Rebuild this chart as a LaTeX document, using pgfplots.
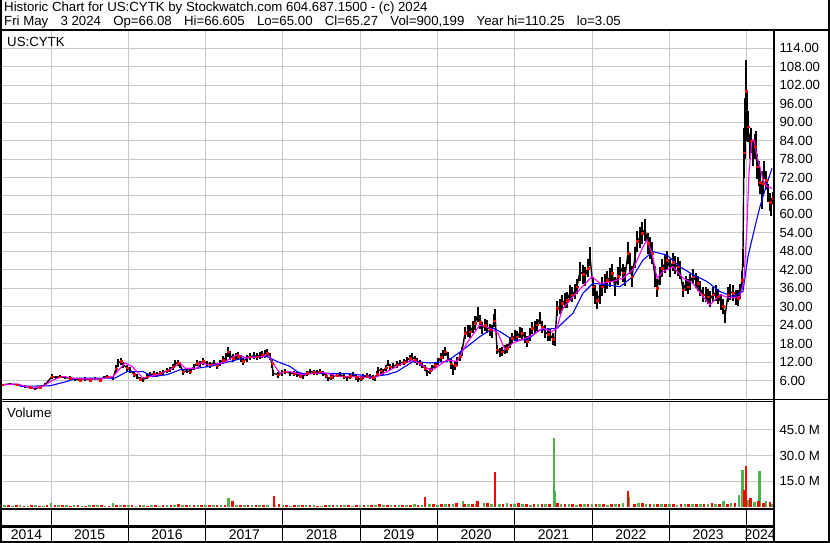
\documentclass[border=0pt]{standalone}
\usepackage{pgfplots}
\pgfplotsset{compat=1.18}
\usepackage{pgfplotstable}
\usepackage{fontspec}
\setmainfont{Liberation Sans}
\definecolor{gridc}{RGB}{200,200,200}
\definecolor{volg}{RGB}{76,178,76}
\definecolor{volr}{RGB}{255,0,0}
\definecolor{maM}{RGB}{255,0,255}
\definecolor{maB}{RGB}{0,0,255}

\pgfplotstableread{
t c e
2014.366 4.6 0.4
2014.470 4.9 0.4
2014.560 4.6 0.4
2014.664 4.1 0.4
2014.728 3.8 0.4
2014.793 3.3 0.4
2014.858 3.9 0.4
2014.922 4.6 0.5
2015.013 7.3 0.8
2015.065 7.0 0.6
2015.116 7.3 0.6
2015.181 7.0 0.6
2015.246 6.8 0.6
2015.311 6.4 0.5
2015.375 6.2 0.5
2015.440 6.5 0.5
2015.505 6.2 0.5
2015.569 6.8 0.5
2015.634 6.2 0.5
2015.686 7.0 0.6
2015.724 7.3 0.6
2015.802 6.8 0.6
2015.841 9.8 1.2
2015.867 11.7 1.2
2015.906 12.2 1.2
2015.931 11.1 1.0
2015.983 10.2 1.0
2016.022 9.5 1.0
2016.074 8.0 0.8
2016.113 7.3 0.8
2016.151 6.5 0.8
2016.190 6.2 0.8
2016.242 7.2 0.8
2016.281 7.9 0.8
2016.333 8.2 0.8
2016.371 7.9 0.8
2016.410 8.3 0.8
2016.449 8.6 0.8
2016.501 9.2 0.8
2016.539 9.5 0.8
2016.578 10.5 1.0
2016.604 11.7 1.0
2016.643 11.6 1.0
2016.669 11.1 1.0
2016.708 8.9 1.0
2016.759 9.2 0.9
2016.798 8.9 0.9
2016.850 10.5 1.0
2016.889 11.7 1.0
2016.928 11.5 1.0
2016.966 12.2 1.0
2017.018 11.5 1.0
2017.057 11.1 1.0
2017.109 11.8 1.0
2017.148 10.8 1.0
2017.186 11.8 1.0
2017.225 12.7 1.2
2017.264 13.5 1.5
2017.290 15.4 1.6
2017.316 14.2 1.4
2017.355 13.3 1.2
2017.393 13.8 1.2
2017.419 14.0 1.2
2017.458 13.2 1.2
2017.484 12.2 1.2
2017.536 13.2 1.2
2017.574 13.8 1.2
2017.626 14.1 1.2
2017.665 13.8 1.2
2017.704 14.2 1.2
2017.730 14.4 1.2
2017.769 14.6 1.2
2017.794 14.9 1.2
2017.833 13.8 1.2
2017.859 11.5 1.5
2017.872 8.4 1.0
2017.937 7.9 1.0
2017.988 8.5 0.9
2018.027 8.9 0.9
2018.092 8.4 0.8
2018.144 8.2 0.8
2018.183 7.9 0.8
2018.221 7.5 0.8
2018.260 7.3 0.8
2018.312 8.4 0.8
2018.351 8.9 0.8
2018.402 8.7 0.8
2018.441 8.6 0.8
2018.480 8.9 0.8
2018.519 8.4 0.8
2018.558 7.6 0.8
2018.584 6.5 0.8
2018.622 7.0 0.8
2018.648 7.3 0.8
2018.700 7.8 0.8
2018.739 7.9 0.8
2018.791 7.3 0.8
2018.829 6.8 0.8
2018.868 7.4 0.8
2018.907 7.9 0.8
2018.946 7.0 0.8
2018.972 6.2 0.8
2019.010 6.8 0.8
2019.036 7.3 0.8
2019.088 7.5 0.8
2019.127 7.3 0.8
2019.166 7.0 0.8
2019.192 6.8 0.8
2019.217 8.0 1.0
2019.230 9.5 1.0
2019.269 9.2 1.0
2019.295 8.9 1.0
2019.334 10.2 1.0
2019.360 11.7 1.0
2019.386 10.5 1.0
2019.424 10.6 1.0
2019.476 11.2 1.0
2019.515 11.7 1.0
2019.567 12.0 1.0
2019.606 12.7 1.0
2019.644 13.2 1.2
2019.670 13.8 1.2
2019.709 12.8 1.2
2019.735 12.2 1.2
2019.774 11.8 1.0
2019.800 11.1 1.0
2019.838 10.0 1.0
2019.864 8.4 1.0
2019.903 9.2 1.0
2019.929 10.0 1.0
2019.968 11.0 1.0
2020.007 12.2 1.2
2020.045 13.5 1.4
2020.071 14.5 1.4
2020.097 15.4 1.5
2020.136 13.8 1.5
2020.175 11.5 1.6
2020.201 9.5 1.6
2020.227 11.0 1.5
2020.252 12.2 1.5
2020.291 13.8 1.5
2020.317 15.4 1.5
2020.356 21.4 2.0
2020.395 22.0 2.0
2020.421 21.9 2.0
2020.459 23.5 2.0
2020.485 24.7 2.2
2020.524 27.5 2.4
2020.550 25.0 2.2
2020.576 23.0 2.0
2020.615 24.0 2.0
2020.641 23.6 2.0
2020.679 22.5 2.0
2020.705 21.9 2.0
2020.731 25.5 2.0
2020.744 27.9 1.5
2020.770 16.0 1.5
2020.809 15.0 1.5
2020.835 15.4 1.5
2020.873 16.0 1.5
2020.899 16.5 1.5
2020.938 18.5 1.8
2020.964 19.8 1.8
2021.003 20.5 1.8
2021.029 20.3 1.8
2021.067 21.5 1.8
2021.093 21.4 1.8
2021.132 20.0 1.8
2021.158 18.7 1.8
2021.197 21.0 2.0
2021.223 23.0 2.0
2021.262 23.5 2.0
2021.287 24.1 2.0
2021.326 26.3 2.0
2021.352 23.5 2.0
2021.391 21.9 2.0
2021.430 21.0 2.0
2021.456 20.9 2.0
2021.494 19.5 2.0
2021.520 18.7 1.5
2021.546 29.5 2.5
2021.585 30.0 2.5
2021.611 31.2 2.5
2021.650 32.0 2.5
2021.676 32.2 2.5
2021.714 34.4 2.5
2021.740 33.9 2.5
2021.779 35.0 2.5
2021.805 36.5 2.5
2021.844 41.4 3.0
2021.883 40.5 3.0
2021.908 39.8 3.0
2021.947 42.5 3.0
2021.973 46.3 3.0
2022.012 36.5 3.0
2022.038 34.0 3.0
2022.064 32.2 3.0
2022.102 34.0 3.0
2022.128 36.5 3.0
2022.167 37.5 3.0
2022.193 38.7 3.0
2022.232 39.5 3.0
2022.258 40.9 3.0
2022.296 36.5 3.0
2022.335 40.0 3.0
2022.361 43.0 3.0
2022.400 41.0 3.0
2022.426 39.8 3.0
2022.465 47.4 3.5
2022.491 44.0 3.5
2022.516 39.8 3.5
2022.555 46.0 3.5
2022.581 51.2 3.5
2022.620 52.5 3.5
2022.646 53.9 3.5
2022.685 55.0 3.5
2022.723 50.6 3.5
2022.749 49.0 3.5
2022.775 47.4 3.5
2022.814 39.8 3.5
2022.840 36.0 3.0
2022.879 40.0 3.0
2022.905 42.5 3.0
2022.943 44.0 3.0
2022.969 45.2 3.0
2023.008 42.5 3.0
2023.047 44.5 3.0
2023.073 43.6 3.0
2023.112 43.0 3.0
2023.137 42.0 3.0
2023.176 35.5 2.5
2023.215 37.5 2.5
2023.241 36.5 2.5
2023.267 38.0 2.5
2023.306 39.8 2.5
2023.344 38.5 2.5
2023.370 37.6 2.5
2023.396 36.0 2.5
2023.435 33.9 2.5
2023.474 34.0 2.5
2023.500 33.3 2.5
2023.526 32.5 2.5
2023.564 33.9 2.5
2023.603 34.5 2.5
2023.629 33.3 2.5
2023.668 31.5 2.5
2023.694 30.1 2.5
2023.720 26.8 2.0
2023.758 33.9 2.5
2023.784 34.8 2.5
2023.823 34.4 2.5
2023.862 33.0 2.5
2023.888 32.8 2.5
2023.914 35.0 2.5
2023.940 38.7 3.0
2023.952 45.8 3.0
2023.965 80.0 8.0
2023.978 88.0 10.0
2023.991 100.0 10.3
2024.004 92.0 8.0
2024.017 88.5 5.0
2024.043 82.0 4.0
2024.056 84.0 4.0
2024.082 79.9 4.0
2024.108 82.0 4.0
2024.121 83.1 4.0
2024.134 75.5 4.0
2024.159 73.4 4.0
2024.172 70.5 4.0
2024.198 65.8 4.0
2024.211 70.0 4.0
2024.224 74.5 3.0
2024.250 71.2 3.0
2024.276 66.9 3.0
2024.302 64.0 3.0
2024.315 62.5 3.0
2024.341 65.3 2.0
}\price

\pgfplotstableread{
t v
2014.366 4.6
2014.560 4.9
2014.767 3.5
2014.897 4.1
2015.026 6.2
2015.155 7.3
2015.375 6.5
2015.634 6.5
2015.802 7.3
2015.957 11.7
2016.048 10.6
2016.190 6.8
2016.371 7.9
2016.539 9.5
2016.669 11.7
2016.734 10.0
2016.889 10.0
2016.928 11.7
2017.057 11.1
2017.225 11.7
2017.406 14.4
2017.536 13.3
2017.743 13.8
2017.807 14.7
2017.898 10.6
2017.963 8.4
2018.092 8.9
2018.260 7.9
2018.519 8.6
2018.739 7.3
2018.959 7.3
2019.166 6.8
2019.347 8.9
2019.515 11.1
2019.683 12.7
2019.864 10.0
2019.942 9.5
2020.123 12.7
2020.252 12.2
2020.382 18.2
2020.550 24.1
2020.679 23.0
2020.783 21.4
2020.873 16.0
2020.977 18.2
2021.197 20.3
2021.365 23.0
2021.482 21.9
2021.546 23.0
2021.611 29.0
2021.753 33.3
2021.999 39.8
2022.102 37.6
2022.271 38.2
2022.400 39.3
2022.529 42.0
2022.659 49.5
2022.711 51.7
2022.775 47.4
2022.840 39.3
2022.917 41.4
2023.047 43.0
2023.176 39.3
2023.306 37.5
2023.435 33.3
2023.526 30.6
2023.655 33.9
2023.784 32.8
2023.914 33.3
2023.965 38.7
2024.004 56.0
2024.030 73.4
2024.069 84.2
2024.095 84.2
2024.134 78.8
2024.172 75.5
2024.211 71.2
2024.263 69.0
2024.328 68.5
}\maShort

\pgfplotstableread{
t v
2014.599 4.1
2014.987 4.3
2015.207 5.7
2015.336 6.8
2015.634 6.8
2015.828 6.8
2015.983 8.9
2016.190 8.9
2016.320 7.3
2016.501 7.9
2016.669 9.5
2016.889 10.0
2017.057 10.6
2017.316 12.2
2017.536 13.6
2017.794 13.8
2017.924 12.2
2018.092 10.6
2018.183 8.9
2018.260 8.2
2018.519 8.4
2018.868 8.2
2019.166 7.3
2019.347 7.9
2019.476 8.9
2019.683 12.2
2019.903 11.7
2020.123 12.2
2020.330 16.0
2020.550 20.3
2020.718 23.0
2020.809 21.9
2020.977 19.2
2021.158 19.2
2021.326 22.5
2021.546 23.0
2021.753 27.9
2021.883 34.4
2022.012 37.6
2022.193 37.1
2022.361 36.5
2022.529 39.8
2022.659 45.2
2022.788 47.9
2022.969 46.8
2023.137 43.0
2023.306 40.4
2023.487 38.2
2023.655 34.9
2023.823 33.3
2023.952 34.9
2024.017 46.3
2024.108 56.0
2024.172 62.5
2024.263 70.1
2024.328 75.0
}\maLong

\pgfplotstableread{
t v
2014.40 1.0
2014.50 0.8
2014.60 1.1
2014.70 0.7
2014.80 0.9
2014.90 0.8
2015.00 2.2
2015.10 1.2
2015.20 0.9
2015.30 1.0
2015.40 0.8
2015.50 0.9
2015.60 1.1
2015.70 0.8
2015.80 2.6
2015.90 1.3
2016.00 1.0
2016.10 0.8
2016.20 1.1
2016.30 0.9
2016.40 0.8
2016.50 1.0
2016.60 1.2
2016.70 0.9
2016.80 1.0
2016.90 1.3
2017.00 1.1
2017.10 0.9
2017.20 1.2
2017.30 5.4
2017.40 1.3
2017.50 1.0
2017.60 1.2
2017.70 1.1
2017.80 1.3
2017.90 1.4
2018.00 1.0
2018.10 0.8
2018.20 1.2
2018.30 0.9
2018.40 1.1
2018.50 0.8
2018.60 1.0
2018.70 0.9
2018.80 1.2
2018.90 0.8
2019.00 1.0
2019.10 1.1
2019.20 1.4
2019.30 0.9
2019.40 1.2
2019.50 1.0
2019.60 1.3
2019.70 1.5
2019.80 1.2
2019.90 1.6
2020.00 1.4
2020.10 1.8
2020.20 1.5
2020.33 3.5
2020.40 1.7
2020.50 2.0
2020.60 2.4
2020.70 1.8
2020.80 1.6
2020.90 2.2
2021.00 1.5
2021.10 1.8
2021.20 1.4
2021.30 1.7
2021.40 2.0
2021.507 40.6
2021.52 9.4
2021.60 1.9
2021.70 1.6
2021.80 1.4
2021.90 1.8
2022.00 1.5
2022.10 1.7
2022.20 1.4
2022.30 1.6
2022.40 2.4
2022.47 6.0
2022.60 2.2
2022.70 1.7
2022.80 1.5
2022.90 1.9
2023.00 1.6
2023.10 1.4
2023.20 1.8
2023.30 2.0
2023.40 1.7
2023.50 1.5
2023.60 1.9
2023.70 3.5
2023.80 2.2
2023.90 7.0
2023.95 21.7
2024.02 4.0
2024.10 3.0
2024.17 21.0
2024.25 3.2
2024.32 1.8
}\volG

\pgfplotstableread{
t v
2014.45 0.9
2014.55 1.2
2014.65 0.8
2014.75 1.0
2014.85 0.7
2014.95 0.9
2015.05 1.3
2015.15 1.0
2015.25 0.8
2015.35 1.1
2015.45 0.7
2015.55 0.9
2015.65 1.0
2015.75 0.8
2015.85 1.4
2015.95 1.1
2016.05 0.9
2016.15 1.2
2016.25 0.8
2016.35 1.0
2016.45 0.9
2016.55 1.1
2016.65 2.0
2016.75 1.0
2016.85 0.9
2016.95 1.2
2017.05 1.0
2017.15 1.1
2017.25 0.9
2017.35 3.6
2017.45 1.2
2017.55 1.0
2017.65 1.1
2017.75 1.3
2017.885 6.4
2017.95 1.5
2018.05 1.1
2018.15 0.9
2018.25 1.0
2018.35 1.2
2018.45 0.8
2018.55 1.0
2018.65 1.1
2018.75 0.9
2018.85 1.0
2018.95 1.1
2019.05 0.9
2019.15 1.2
2019.25 1.5
2019.35 1.0
2019.45 1.3
2019.55 1.1
2019.65 1.4
2019.75 1.2
2019.84 5.9
2019.95 1.5
2020.05 1.7
2020.15 1.9
2020.25 2.3
2020.35 1.8
2020.45 2.0
2020.52 3.6
2020.65 2.1
2020.744 20.7
2020.85 2.0
2020.95 1.8
2021.05 2.2
2021.15 1.6
2021.25 1.9
2021.35 1.7
2021.45 1.5
2021.55 2.6
2021.65 1.8
2021.75 1.5
2021.85 1.7
2021.95 1.9
2022.05 1.6
2022.15 2.0
2022.25 1.5
2022.35 1.8
2022.465 9.4
2022.55 2.0
2022.65 2.3
2022.75 1.8
2022.85 1.6
2022.95 2.0
2023.05 1.7
2023.15 1.5
2023.25 1.9
2023.35 1.6
2023.45 1.8
2023.55 2.1
2023.65 1.7
2023.75 2.0
2023.85 2.4
2023.97 10.0
2023.99 24.0
2024.05 5.0
2024.15 3.2
2024.22 2.5
2024.30 2.8
}\volR

\newcommand{\lblfont}{\fontsize{13.3}{15}\selectfont}
\newcommand{\gap}{\hspace{12.2bp}}

\begin{document}
\begin{tikzpicture}
\useasboundingbox (0bp,0bp) rectangle (830bp,543bp);
\fill[white] (0bp,0bp) rectangle (830bp,543bp);

% ---------- price panel ----------
\begin{axis}[
  at={(2bp,144bp)}, anchor=south west, scale only axis,
  width=771bp, height=369bp,
  xmin=2014.366, xmax=2024.341, ymin=0, ymax=119.95,
  axis line style={draw=none},
  major tick length=0pt,
  xtick={2015,2016,...,2024}, xticklabels={},
  ytick={6,12,...,114},
  xmajorgrids, ymajorgrids,
  grid style={gridc, line width=1bp},
  yticklabel pos=right,
  yticklabel style={anchor=west, xshift=3bp, font=\lblfont},
  /pgf/number format/assume math mode=true,
  yticklabel={\pgfmathprintnumber[fixed,fixed zerofill,precision=2]{\tick}},
]
\addplot[black, line width=1.4bp, no marks,
  error bars/.cd, y dir=both, y explicit,
  error bar style={black, line width=1.6bp}, error mark=none]
  table[x=t, y=c, y error=e] {\price};
\addplot[only marks, mark=square*, mark size=0.8bp, color=red, each nth point=2]
  table[x=t, y=c] {\price};
\addplot[maB, line width=1.1bp, no marks] table[x=t, y=v] {\maLong};
\addplot[maM, line width=1.1bp, no marks] table[x=t, y=v] {\maShort};
\end{axis}

% ---------- volume panel ----------
\begin{axis}[
  at={(2bp,34bp)}, anchor=south west, scale only axis,
  width=771bp, height=107bp,
  xmin=2014.366, xmax=2024.341, ymin=-1.2, ymax=61.37,
  axis line style={draw=none},
  major tick length=0pt,
  xtick={2015,2016,...,2024}, xticklabels={},
  ytick={15,30,45}, yticklabels={15.0 M,30.0 M,45.0 M},
  xmajorgrids, ymajorgrids,
  grid style={gridc, line width=1bp},
  yticklabel pos=right,
  yticklabel style={anchor=west, xshift=3bp, font=\lblfont},
]
\addplot[ycomb, volg, line width=2.6bp, no marks] table[x=t, y=v] {\volG};
\addplot[ycomb, volr, line width=2.6bp, no marks] table[x=t, y=v] {\volR};
\end{axis}

% ---------- frame ----------
\begin{scope}[x=1bp,y=1bp]
\draw[line width=2bp] (1,543) -- (1,1) -- (829,1) -- (829,543);
\draw[line width=1.5bp] (0,513) -- (830,513);
\draw[line width=2bp] (773.5,513) -- (773.5,0);
\draw[line width=1bp] (0,143.5) -- (830,143.5);
\draw[line width=1bp] (0,141) -- (773.5,141);
\draw[line width=2bp] (0,33.5) -- (773.5,33.5);
\draw[line width=2bp] (0,16.5) -- (773.5,16.5);
\foreach \xx in {51.0,128.3,205.6,282.9,360.2,437.5,514.8,592.1,669.4,746.7}
  \draw[line width=1bp] (\xx,33) -- (\xx,1);
\foreach \xx/\yy in {26.5/2014,89.7/2015,167.0/2016,244.3/2017,321.6/2018,398.9/2019,476.2/2020,553.5/2021,630.8/2022,708.1/2023,760.1/2024}
  \node[font=\fontsize{14}{15}\selectfont, inner sep=0pt] at (\xx,8.5) {\yy};
\node[anchor=west, inner sep=0pt, font=\lblfont] at (4,535) {Historic Chart for US:CYTK by Stockwatch.com 604.687.1500 - (c) 2024};
\node[anchor=west, inner sep=0pt, font=\lblfont] at (4,521) {Fri May\gap 3 2024\gap Op=66.08\gap Hi=66.605\gap Lo=65.00\gap Cl=65.27\gap Vol=900,199\gap Year hi=110.25\gap lo=3.05};
\node[anchor=west, inner sep=0pt, font=\lblfont] at (7,501) {US:CYTK};
\node[anchor=west, inner sep=0pt, font=\lblfont] at (7,130) {Volume};
\end{scope}
\end{tikzpicture}
\end{document}
